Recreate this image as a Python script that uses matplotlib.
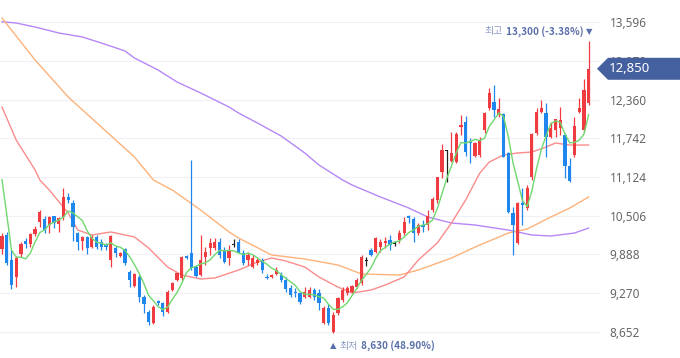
import numpy as np
import pandas as pd
import matplotlib
matplotlib.use("Agg")
import matplotlib.pyplot as plt
from matplotlib.patches import Polygon

plt.rcParams['font.family'] = ['Noto Sans CJK KR', 'DejaVu Sans']

# daily candles (open, high, low, close)
opens = [9975, 10199, 9800, 9529, 9896, 10103, 10055, 10214, 10406, 10454,
         10358, 10502, 10374, 10486, 10805, 10709, 10230, 10103, 10167, 10007,
         10167, 10087, 10055, 9800, 9991, 9864, 9975, 9609, 9385, 9529,
         9210, 8971, 8795, 9146, 9114, 8971, 9321, 9481, 9513, 9864,
         9912, 9688, 9561, 9848, 9991, 9991, 10087, 9959, 9832, 10039,
         10087, 9912, 9800, 9688, 9752, 9800, 9529, 9529, 9577, 9561,
         9481, 9353, 9289, 9274, 9210, 9210, 9321, 9274, 8795, 9034,
         8652, 8955, 9162, 9274, 9289, 9369, 9433, 9784, 9959, 9928,
         10007, 10071, 10119, 10055, 10119, 10230, 10502, 10454, 10230, 10358,
         10358, 10597, 10757, 11203, 11538, 11379, 11363, 11921, 12001, 11682,
         11459, 11475, 11873, 12224, 12320, 12113, 12129, 11507, 10549, 10071,
         10709, 10629, 11124, 11826, 12160, 12145, 11762, 11873, 11905, 11794,
         11299, 11475, 12160, 11873, 12304]
highs = [10230, 10246, 9959, 9864, 10087, 10151, 10230, 10342, 10597, 10502,
         10502, 10502, 10486, 10948, 10869, 10757, 10246, 10183, 10183, 10199,
         10199, 10135, 10071, 10199, 10023, 9928, 9991, 9640, 9593, 9561,
         9242, 9002, 9082, 9162, 9130, 9321, 9449, 9593, 9864, 9880,
         11395, 9720, 10199, 10007, 10151, 10151, 10151, 10007, 10039, 10135,
         10135, 9959, 9928, 9880, 9832, 9832, 9577, 9577, 9688, 9609,
         9529, 9401, 9353, 9289, 9369, 9369, 9353, 9337, 9066, 9098,
         8971, 9210, 9369, 9385, 9401, 9513, 9880, 9848, 9991, 10167,
         10135, 10167, 10199, 10103, 10278, 10486, 10518, 10486, 10390, 10438,
         10597, 10805, 11124, 11650, 11554, 11841, 11841, 12113, 12097, 11746,
         11682, 11762, 12160, 12543, 12591, 12384, 12145, 11522, 10645, 10725,
         10948, 10996, 11826, 12224, 12352, 12304, 12001, 12049, 12240, 11826,
         11427, 12081, 12384, 12687, 13300]
lows = [9896, 9720, 9337, 9369, 9848, 9991, 10007, 10183, 10326, 10230,
        10230, 10310, 10246, 10438, 10709, 10103, 9959, 9959, 9896, 9991,
        9975, 9959, 9959, 9688, 9848, 9848, 9720, 9369, 9369, 9130,
        8955, 8763, 8779, 9082, 8907, 8955, 9305, 9465, 9481, 9816,
        9640, 9529, 9545, 9720, 9880, 9959, 9832, 9752, 9720, 10007,
        9912, 9720, 9720, 9672, 9720, 9593, 9497, 9513, 9561, 9449,
        9289, 9210, 9210, 9098, 9194, 9194, 9162, 9002, 8779, 8763,
        8630, 8923, 9130, 9242, 9274, 9353, 9401, 9704, 9864, 9912,
        9928, 9991, 9959, 10023, 10071, 10199, 10390, 10087, 10199, 10246,
        10278, 10565, 10709, 11108, 11044, 11363, 11347, 11794, 11459, 11347,
        11443, 11443, 11826, 12192, 12081, 12081, 11443, 10549, 9880, 10055,
        10358, 10597, 11076, 11794, 12145, 11443, 11746, 11762, 11794, 11108,
        11044, 11443, 12145, 11841, 12272]
closes = [10183, 9752, 9401, 9832, 10055, 10055, 10214, 10294, 10565, 10278,
          10486, 10390, 10470, 10805, 10757, 10326, 10087, 10167, 9991, 10167,
          10007, 10007, 10007, 10183, 9912, 9912, 9752, 9481, 9577, 9210,
          9098, 8811, 9050, 9114, 8971, 9289, 9433, 9593, 9848, 9832,
          9672, 9545, 9800, 9928, 10071, 10087, 9880, 9768, 9959, 10039,
          9912, 9752, 9880, 9832, 9800, 9640, 9513, 9561, 9640, 9481,
          9337, 9242, 9274, 9130, 9289, 9321, 9210, 9114, 9034, 8795,
          8923, 9194, 9321, 9353, 9385, 9481, 9848, 9784, 9880, 10151,
          10087, 10103, 10039, 10055, 10230, 10406, 10470, 10230, 10358, 10326,
          10502, 10773, 11124, 11554, 11538, 11507, 11810, 11953, 11522, 11666,
          11666, 11714, 12145, 12464, 12192, 12208, 11443, 10565, 10358, 10709,
          10677, 10948, 11810, 12160, 12224, 11762, 11905, 12049, 12033, 11299,
          11060, 11937, 12224, 12511, 12850]
prior_closes = [12500, 12250, 10400, 10064]

# longer moving averages, read at points (candle index, price)
ma20_x = [0, 3, 7, 8, 10, 14, 16, 19, 23, 28, 31, 35, 38, 42, 45, 50, 54, 57, 60,
          64, 67, 71, 74, 78, 81, 85, 88, 92, 95, 98, 101, 103, 106, 109, 112,
          115, 117, 120, 124]
ma20_y = [12240, 11714, 11235, 11076, 10916, 10549, 10278, 10199, 10247, 10167,
          9991, 9688, 9561, 9497, 9513, 9640, 9768, 9832, 9784, 9688, 9529, 9369,
          9274, 9321, 9401, 9529, 9800, 10071, 10390, 10757, 11188, 11363, 11475,
          11507, 11522, 11602, 11666, 11634, 11634]
ma60_x = [0, 7, 14, 21, 28, 32, 36, 42, 48, 50, 57, 64, 71, 76, 84, 88, 95, 100,
          107, 111, 116, 120, 124]
ma60_y = [13660, 12990, 12400, 11921, 11443, 11076, 10916, 10597, 10247, 10151,
          9880, 9816, 9720, 9577, 9561, 9640, 9832, 10007, 10230, 10294, 10486,
          10629, 10805]
ma120_x = [0, 3, 7, 12, 17, 21, 26, 28, 33, 37, 42, 48, 50, 54, 59, 64, 67, 72,
           74, 80, 86, 90, 95, 100, 107, 112, 116, 121, 124]
ma120_y = [13600, 13580, 13516, 13421, 13357, 13261, 13134, 13022, 12830, 12639,
           12464, 12240, 12145, 11985, 11778, 11507, 11315, 11076, 10996, 10805,
           10629, 10486, 10390, 10358, 10278, 10199, 10183, 10230, 10310]

yticks = [8652, 9270, 9888, 10506, 11124, 11742, 12360, 12979, 13596]

UP, DOWN, FLAT = '#F03B40', '#1F86EE', '#222222'
LABEL_BLUE, LABEL_GREY = '#5B6FAA', '#8E9CC6'

df = pd.DataFrame({'o': opens, 'h': highs, 'l': lows, 'c': closes})
x = np.arange(len(df))
ma5 = pd.Series(prior_closes + closes).rolling(5).mean().to_numpy()[len(prior_closes):]

W, H = 680, 358
fig = plt.figure(figsize=(W / 100, H / 100), dpi=100)
ax = fig.add_axes([0, 0, 600 / W, 1])

for t in yticks:
    ax.axhline(t, color='#F0F0F7', lw=0.9, zorder=0)

colors = np.where(df.c > df.o, UP, np.where(df.c < df.o, DOWN, FLAT))
ax.vlines(x, df.l, df.h, colors=colors, lw=0.9, zorder=2)
body_lo = np.minimum(df.o, df.c)
body_h = np.maximum(np.abs(df.c - df.o), 18)
ax.bar(x, body_h, bottom=body_lo, width=0.68, color=colors, lw=0, zorder=3)

ax.plot(ma120_x, ma120_y, color='#B787F7', lw=1.0, zorder=1)
ax.plot(ma60_x, ma60_y, color='#FDB27A', lw=1.0, zorder=1)
ax.plot(ma20_x, ma20_y, color='#FB8C8C', lw=1.0, zorder=1)
ax.plot(x, ma5, color='#6FD86F', lw=1.0, zorder=4)

ax.set_xlim(-0.42, 126.4)
ax.set_ylim(8237, 13947)
for s in ax.spines.values():
    s.set_visible(False)
ax.set_xticks([])
ax.yaxis.tick_right()
ax.set_yticks(yticks)
ax.set_yticklabels([f'{v:,}' for v in yticks], fontsize=8.5, color='#666666',
                   family=['Noto Sans', 'DejaVu Sans'])
ax.tick_params(axis='y', length=0, pad=7)

# high / low markers
i_hi = int(np.argmax(df.h))
i_lo = int(np.argmin(df.l))
hi, lo = df.h[i_hi], df.l[i_lo]
last = closes[-1]

renderer = fig.canvas.get_renderer()
tri_hi = ax.text(i_hi + 0.9, hi + 150, '▼', ha='right', va='center', fontsize=6,
                 color=LABEL_BLUE, family=['DejaVu Sans'])
bb = tri_hi.get_window_extent(renderer)
hi_val = ax.annotate(f'{hi:,} ({(last - hi) / hi * 100:.2f}%)',
                     xy=(bb.x0 - 3, (bb.y0 + bb.y1) / 2), xycoords='figure pixels',
                     ha='right', va='center', fontsize=7.2, color=LABEL_BLUE,
                     weight='bold')
bb = hi_val.get_window_extent(renderer)
ax.annotate('최고', xy=(bb.x0 - 3, (bb.y0 + bb.y1) / 2), xycoords='figure pixels',
            ha='right', va='center', fontsize=7.2, color=LABEL_GREY)

tri_lo = ax.text(i_lo - 0.6, lo - 200, '▲', ha='left', va='center', fontsize=6,
                 color=LABEL_BLUE, family=['DejaVu Sans'])
bb = tri_lo.get_window_extent(renderer)
lo_lab = ax.annotate('최저', xy=(bb.x1 + 3, (bb.y0 + bb.y1) / 2),
                     xycoords='figure pixels', ha='left', va='center',
                     fontsize=7.2, color=LABEL_GREY)
bb = lo_lab.get_window_extent(renderer)
ax.annotate(f'{lo:,} ({(last - lo) / lo * 100:.2f}%)',
            xy=(bb.x1 + 3, (bb.y0 + bb.y1) / 2), xycoords='figure pixels',
            ha='left', va='center', fontsize=7.2, color=LABEL_BLUE, weight='bold')

# current price tag
yc = ax.transData.transform((0, last))[1]
tag = [(597, yc), (608, yc + 11), (W, yc + 11), (W, yc - 11), (608, yc - 11)]
fig.patches.append(Polygon([(px / W, py / H) for px, py in tag], closed=True,
                           transform=fig.transFigure, fc='#45609F', ec='none',
                           zorder=5))
fig.text(609 / W, yc / H, f'{last:,}', ha='left', va='center', fontsize=9.5,
         color='white', zorder=6, family=['Noto Sans', 'DejaVu Sans'])

fig.savefig('out.png', dpi=100)
